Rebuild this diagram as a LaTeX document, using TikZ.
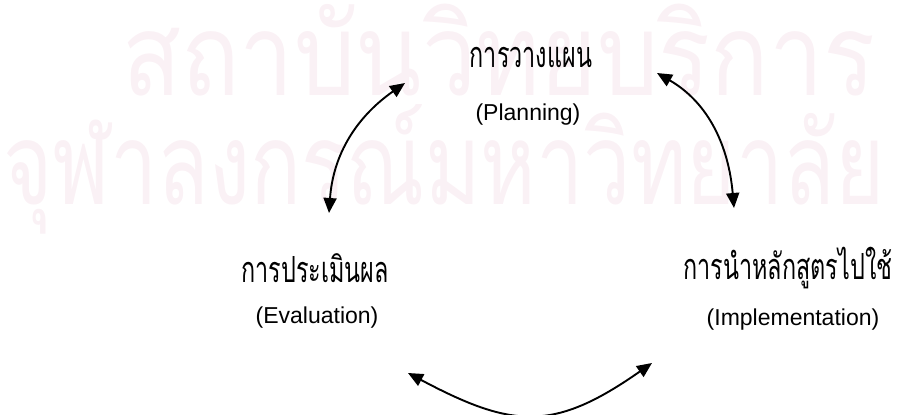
\documentclass[tikz,border=0pt]{standalone}
\usepackage{fontspec}
\setmainfont{Liberation Sans}
\newfontfamily\thaiwm[Script=Thai,FakeStretch=0.85]{Loma}
\newfontfamily\thaiwmb[Script=Thai,FakeStretch=0.74]{Loma}
\newfontfamily\thainarrow[Script=Thai,FakeStretch=0.65]{Loma}
\usetikzlibrary{arrows.meta}
\definecolor{wm}{RGB}{250,241,245}
\begin{document}
\begin{tikzpicture}[x=1pt,y=-1pt,
  lbl/.style={inner sep=0pt, font=\fontsize{23}{26}\selectfont},
  thlbl/.style={inner sep=0pt, font=\thainarrow\fontsize{36}{40}\selectfont},
  wmtext/.style={anchor=base west, inner sep=0pt, text=wm, font=\fontsize{114}{120}\selectfont},
  cyc/.style={line width=1.9pt, {Triangle[length=15pt,width=13pt]}-{Triangle[length=15pt,width=13pt]}}]
\useasboundingbox (0,0) rectangle (897,415);
\begin{scope}
\clip (0,0) rectangle (897,415);
\node[wmtext] (wm1) at (122,95) {\thaiwm สถาบันวิทยบริการ};
\node[wmtext] (wm2) at (3,204) {\thaiwmb จุฬาลงกรณ์มหาวิทยาลัย};
\end{scope}
\node[thlbl] (plan) at (531,57) {การวางแผน};
\node[lbl] (planE) at (528,115) {(Planning)};
\node[thlbl] (eval) at (315,268) {การประเมินผล};
\node[lbl] (evalE) at (317,318) {(Evaluation)};
\node[thlbl] (impl) at (788,268) {การนำหลักสูตรไปใช้};
\node[lbl] (implE) at (793,320) {(Implementation)};
\coordinate (a1b) at (329,213);
\coordinate (a1t) at (405,83);
\coordinate (a2t) at (657,73);
\coordinate (a2b) at (734,208);
\coordinate (a3l) at (408,373);
\coordinate (a3r) at (652,363);
\draw[cyc] (a1b) to[out=86,in=215] (a1t);
\draw[cyc] (a2t) to[out=-30,in=95] (a2b);
\draw[cyc] (a3l) to[out=-28,in=215,looseness=1.25] (a3r);
\end{tikzpicture}
\end{document}
